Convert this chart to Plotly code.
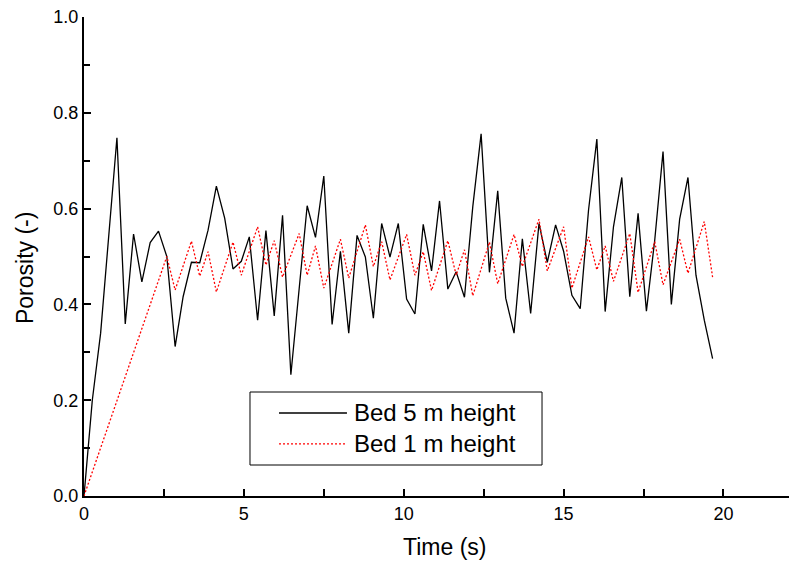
import plotly.graph_objects as go

# ---- data ----
time_5m = [0.00, 0.26, 0.52, 0.78, 1.03, 1.29, 1.55, 1.81, 2.07, 2.33,
           2.59, 2.85, 3.10, 3.36, 3.62, 3.88, 4.14, 4.40, 4.66, 4.92,
           5.17, 5.43, 5.69, 5.95, 6.21, 6.47, 6.73, 6.98, 7.24, 7.50,
           7.76, 8.02, 8.28, 8.54, 8.80, 9.05, 9.31, 9.57, 9.83, 10.09,
           10.35, 10.61, 10.87, 11.12, 11.38, 11.64, 11.90, 12.16, 12.42, 12.68,
           12.94, 13.19, 13.45, 13.71, 13.97, 14.23, 14.49, 14.75, 15.00, 15.26,
           15.52, 15.78, 16.04, 16.30, 16.56, 16.82, 17.07, 17.33, 17.59, 17.85,
           18.11, 18.37, 18.63, 18.89, 19.14, 19.40, 19.66]
porosity_5m = [0.0, 0.20, 0.34, 0.545, 0.748, 0.359, 0.547, 0.447, 0.529, 0.553,
               0.50, 0.312, 0.416, 0.488, 0.487, 0.555, 0.647, 0.580, 0.474, 0.490,
               0.541, 0.367, 0.554, 0.376, 0.586, 0.253, 0.429, 0.606, 0.540, 0.668,
               0.358, 0.511, 0.340, 0.544, 0.499, 0.371, 0.569, 0.499, 0.569, 0.411,
               0.380, 0.567, 0.470, 0.616, 0.432, 0.468, 0.415, 0.604, 0.756, 0.467,
               0.637, 0.413, 0.340, 0.537, 0.381, 0.569, 0.488, 0.566, 0.511, 0.419,
               0.391, 0.597, 0.745, 0.385, 0.562, 0.665, 0.416, 0.590, 0.386, 0.534,
               0.719, 0.400, 0.578, 0.665, 0.461, 0.367, 0.287]

time_1m = [0.00, 2.59, 2.85, 3.36, 3.62, 3.88, 4.14, 4.66, 4.92, 5.43,
           5.69, 5.95, 6.21, 6.73, 6.98, 7.24, 7.50, 8.02, 8.28, 8.80,
           9.05, 9.31, 9.57, 10.09, 10.35, 10.61, 10.87, 11.38, 11.64, 11.90,
           12.16, 12.68, 12.94, 13.45, 13.71, 14.23, 14.49, 15.00, 15.26, 15.78,
           16.04, 16.30, 16.56, 17.07, 17.33, 17.85, 18.11, 18.63, 18.89, 19.40,
           19.66]
porosity_1m = [0.0, 0.50, 0.43, 0.532, 0.459, 0.51, 0.426, 0.53, 0.461, 0.562,
               0.482, 0.533, 0.457, 0.548, 0.461, 0.522, 0.434, 0.536, 0.455, 0.566,
               0.479, 0.531, 0.451, 0.546, 0.461, 0.510, 0.429, 0.533, 0.461, 0.514,
               0.418, 0.530, 0.443, 0.546, 0.479, 0.578, 0.470, 0.562, 0.434, 0.541,
               0.472, 0.522, 0.448, 0.548, 0.425, 0.531, 0.441, 0.536, 0.465, 0.573,
               0.457]

series_names = ["Bed 5 m height", "Bed 1 m height"]
x_ticks = [0, 5, 10, 15, 20]
x_tick_labels = ["0", "5", "10", "15", "20"]
y_ticks = [0.0, 0.2, 0.4, 0.6, 0.8, 1.0]
y_tick_labels = ["0.0", "0.2", "0.4", "0.6", "0.8", "1.0"]
x_title = "Time (s)"
y_title = "Porosity (-)"

FONT = "Liberation Sans, Arial, sans-serif"
RED_DOT = "2px,2px"

fig = go.Figure()
fig.add_trace(go.Scatter(x=time_5m, y=porosity_5m, mode="lines", name=series_names[0],
                         line=dict(color="black", width=1.3), showlegend=False))
fig.add_trace(go.Scatter(x=time_1m, y=porosity_1m, mode="lines", name=series_names[1],
                         line=dict(color="#ff0000", width=1.3, dash=RED_DOT), showlegend=False))

# custom legend (box, line samples, labels) in paper coordinates
lx0, lx1, ly0, ly1 = 0.2328, 0.6424, 0.0647, 0.2171
fig.add_shape(type="rect", xref="paper", yref="paper", x0=lx0, x1=lx1, y0=ly0, y1=ly1,
              line=dict(color="black", width=1), fillcolor="white", layer="above")
rows = [0.1733, 0.1090]
styles = [dict(color="black", width=1.3), dict(color="#ff0000", width=1.3, dash=RED_DOT)]
for yy, st, nm in zip(rows, styles, series_names):
    fig.add_shape(type="line", xref="paper", yref="paper", x0=0.2735, x1=0.3688,
                  y0=yy, y1=yy, line=st, layer="above")
    fig.add_annotation(xref="paper", yref="paper", x=0.3760, y=yy, text=nm,
                       showarrow=False, xanchor="left", yanchor="middle",
                       font=dict(family=FONT, size=24, color="black"))

# axis titles
fig.add_annotation(xref="paper", yref="paper", x=0.505, y=-0.106, text=x_title,
                   showarrow=False, xanchor="center", yanchor="middle",
                   font=dict(family=FONT, size=23, color="black"))
fig.add_annotation(xref="paper", yref="paper", x=-0.0827, y=0.476, text=y_title,
                   showarrow=False, xanchor="center", yanchor="middle", textangle=-90,
                   font=dict(family=FONT, size=23, color="black"))

# page body has an 8px margin: figure is sized/offset so the plot lands where the reference's does
fig.update_layout(
    width=789, height=557,
    margin=dict(l=76, r=0, t=9, b=69),
    paper_bgcolor="white", plot_bgcolor="white",
    font=dict(family=FONT, size=18, color="black"),
    xaxis=dict(range=[0, 22.3], tickvals=x_ticks, ticktext=x_tick_labels,
               showline=True, linecolor="black", linewidth=2, mirror=False,
               ticks="inside", ticklen=7, tickwidth=1.5, tickcolor="black",
               showgrid=False, zeroline=False, ticklabeloverflow="allow",
               minor=dict(ticks="inside", ticklen=7, tickwidth=1.5, tickcolor="black",
                          dtick=2.5, tick0=0, showgrid=False),
               tickfont=dict(family=FONT, size=18, color="black")),
    yaxis=dict(range=[0, 1.0], tickvals=y_ticks, ticktext=y_tick_labels,
               showline=True, linecolor="black", linewidth=2, mirror=False,
               ticks="inside", ticklen=7, tickwidth=1.5, tickcolor="black",
               showgrid=False, zeroline=False, ticklabeloverflow="allow",
               minor=dict(ticks="inside", ticklen=6, tickwidth=1.5, tickcolor="black",
                          dtick=0.1, tick0=0, showgrid=False),
               tickfont=dict(family=FONT, size=18, color="black")),
)

fig.write_html("out.html")
